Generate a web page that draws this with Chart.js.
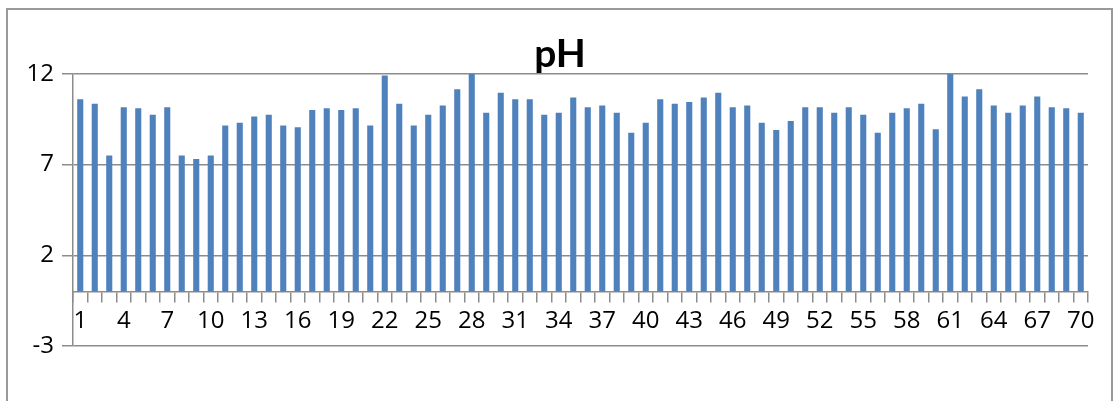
<!DOCTYPE html>
<html>
<head>
<meta charset="utf-8">
<script src="https://cdn.jsdelivr.net/npm/chart.js@4"></script>
<style>
body{margin:0;background:#fff;overflow:hidden;}
#frame{position:absolute;left:6px;top:8px;width:1103px;height:420px;border:2px solid #999;border-bottom:none;}
#wrap{position:absolute;left:0;top:0;width:1115px;height:401px;}
</style>
</head>
<body>
<div id="frame"></div>
<div id="wrap"><canvas id="myChart" width="1115" height="401"></canvas></div>
<script>
// sample numbers 1..70
var samples = [];
for (var i = 1; i <= 70; i++) { samples.push(String(i)); }

// pH readings
var ph = [
  10.6, 10.35, 7.5, 10.15, 10.1, 9.75, 10.15, 7.5, 7.3, 7.5,
  9.15, 9.3, 9.65, 9.75, 9.15, 9.05, 10.0, 10.1, 10.0, 10.1,
  9.15, 11.9, 10.35, 9.15, 9.75, 10.25, 11.15, 12.0, 9.85, 10.95,
  10.6, 10.6, 9.75, 9.85, 10.7, 10.15, 10.25, 9.85, 8.75, 9.3,
  10.6, 10.35, 10.45, 10.7, 10.95, 10.15, 10.25, 9.3, 8.9, 9.4,
  10.15, 10.15, 9.85, 10.15, 9.75, 8.75, 9.85, 10.1, 10.35, 8.95,
  12.0, 10.75, 11.15, 10.25, 9.85, 10.25, 10.75, 10.15, 10.1, 9.85
];

var yTicks = [-3, 2, 7, 12];

var grey = '#8c8c8c';

Chart.defaults.font.family = '"Open Sans", Lato, sans-serif';
Chart.defaults.font.size = 24;
Chart.defaults.color = '#000';

// title sits a bit right of the canvas middle, like the original
var shiftTitle = {
  id: 'shiftTitle',
  afterLayout: function(chart) {
    if (chart.titleBlock) { chart.titleBlock.left = 32; }
  }
};

var ctx = document.getElementById('myChart');
var chart = new Chart(ctx, {
  type: 'bar',
  data: {
    labels: samples,
    datasets: [{
      label: 'pH',
      data: ph,
      backgroundColor: '#4f81bd',
      borderWidth: 0,
      barPercentage: 0.42,
      categoryPercentage: 1.0
    }]
  },
  options: {
    responsive: false,
    animation: false,
    layout: { padding: { left: 0, right: 27, top: 0, bottom: 55 } },
    plugins: {
      legend: { display: false },
      tooltip: { enabled: false },
      title: {
        display: true,
        text: 'pH',
        font: { family: 'Lato', size: 39, weight: 'bold', lineHeight: 1.2 },
        padding: { top: 31, bottom: -4 }
      }
    },
    scales: {
      x: {
        type: 'category',
        position: { y: 0 },
        grid: {
          drawOnChartArea: false,
          drawTicks: true,
          tickLength: 10,
          color: grey,
          lineWidth: 1.5,
          offset: true
        },
        border: { display: true, color: grey, width: 1.5 },
        ticks: {
          autoSkip: false,
          maxRotation: 0,
          minRotation: 0,
          padding: 5,
          callback: function(val, idx) {
            return idx % 3 === 0 ? samples[idx] : '';
          }
        }
      },
      y: {
        min: -3,
        max: 12,
        afterBuildTicks: function(scale) {
          scale.ticks = yTicks.map(function(v){ return { value: v }; });
        },
        afterFit: function(scale) { scale.width = 73; },
        grid: {
          color: grey,
          lineWidth: 1.5,
          tickLength: 11
        },
        border: { display: true, color: grey, width: 1.5 },
        ticks: {
          padding: 8
        }
      }
    }
  },
  plugins: [shiftTitle]
});
</script>
</body>
</html>
